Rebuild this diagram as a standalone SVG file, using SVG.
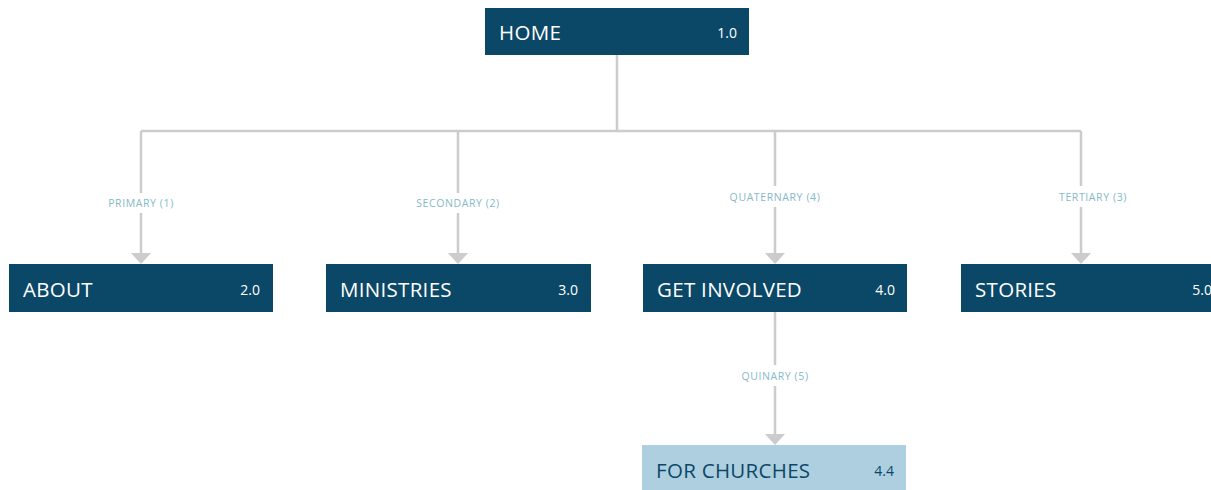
<svg xmlns="http://www.w3.org/2000/svg" width="1211" height="490" viewBox="0 0 1211 490">
<defs>
<style>
.box{fill:#0b4868}
.lbox{fill:#aecfe0}
.t{font-family:"Open Sans","Liberation Sans",sans-serif;font-size:20.5px;font-weight:500;letter-spacing:0.3px;fill:#ffffff}
.n{font-family:"Open Sans","Liberation Sans",sans-serif;font-size:14px;font-weight:500;fill:#ffffff;text-anchor:end}
.lt{fill:#0b4868}
.ln{fill:none;stroke:#cccccc;stroke-width:2.5}
.lab{font-family:"Open Sans","Liberation Sans",sans-serif;font-size:10.5px;letter-spacing:0.6px;fill:#86b9c8;text-anchor:middle}
.ah{fill:#cccccc}
</style>
</defs>
<g id="connectors">
<path class="ln" d="M617,55 V131 M141,131 H1081 M141,131 V253 M458,131 V253 M775,131 V253 M1081,131 V253 M775,312 V434"/>
<rect x="95" y="193" width="92" height="20" fill="#fff"/>
<text class="lab" x="141" y="207">PRIMARY (1)</text>
<rect x="400" y="193" width="116" height="20" fill="#fff"/>
<text class="lab" x="458" y="207">SECONDARY (2)</text>
<rect x="712" y="186" width="126" height="21" fill="#fff"/>
<text class="lab" x="775" y="201">QUATERNARY (4)</text>
<rect x="1045" y="186" width="80" height="21" fill="#fff"/>
<text class="lab" x="1093" y="201">TERTIARY (3)</text>
<rect x="730" y="365" width="90" height="21" fill="#fff"/>
<text class="lab" x="775" y="380">QUINARY (5)</text>
<polygon class="ah" points="131,253 151,253 141,264"/>
<polygon class="ah" points="448,253 468,253 458,264"/>
<polygon class="ah" points="765,253 785,253 775,264"/>
<polygon class="ah" points="1071,253 1091,253 1081,264"/>
<polygon class="ah" points="765,434 785,434 775,445"/>
</g>
<g id="home"><rect class="box" x="485" y="8" width="264" height="47"/><text class="t" x="499" y="40">HOME</text><text class="n" x="737" y="38">1.0</text></g>
<g id="about"><rect class="box" x="9" y="264" width="264" height="48"/><text class="t" x="23" y="297">ABOUT</text><text class="n" x="260" y="295">2.0</text></g>
<g id="ministries"><rect class="box" x="326" y="264" width="265" height="48"/><text class="t" x="340" y="297">MINISTRIES</text><text class="n" x="578" y="295">3.0</text></g>
<g id="get-involved"><rect class="box" x="643" y="264" width="264" height="48"/><text class="t" x="657" y="297">GET INVOLVED</text><text class="n" x="895" y="295">4.0</text></g>
<g id="stories"><rect class="box" x="961" y="264" width="264" height="48"/><text class="t" x="975" y="297">STORIES</text><text class="n" x="1212" y="295">5.0</text></g>
<g id="for-churches"><rect class="lbox" x="642" y="445" width="264" height="45"/><text class="t lt" x="656" y="478">FOR CHURCHES</text><text class="n lt" x="894" y="476">4.4</text></g>
</svg>
